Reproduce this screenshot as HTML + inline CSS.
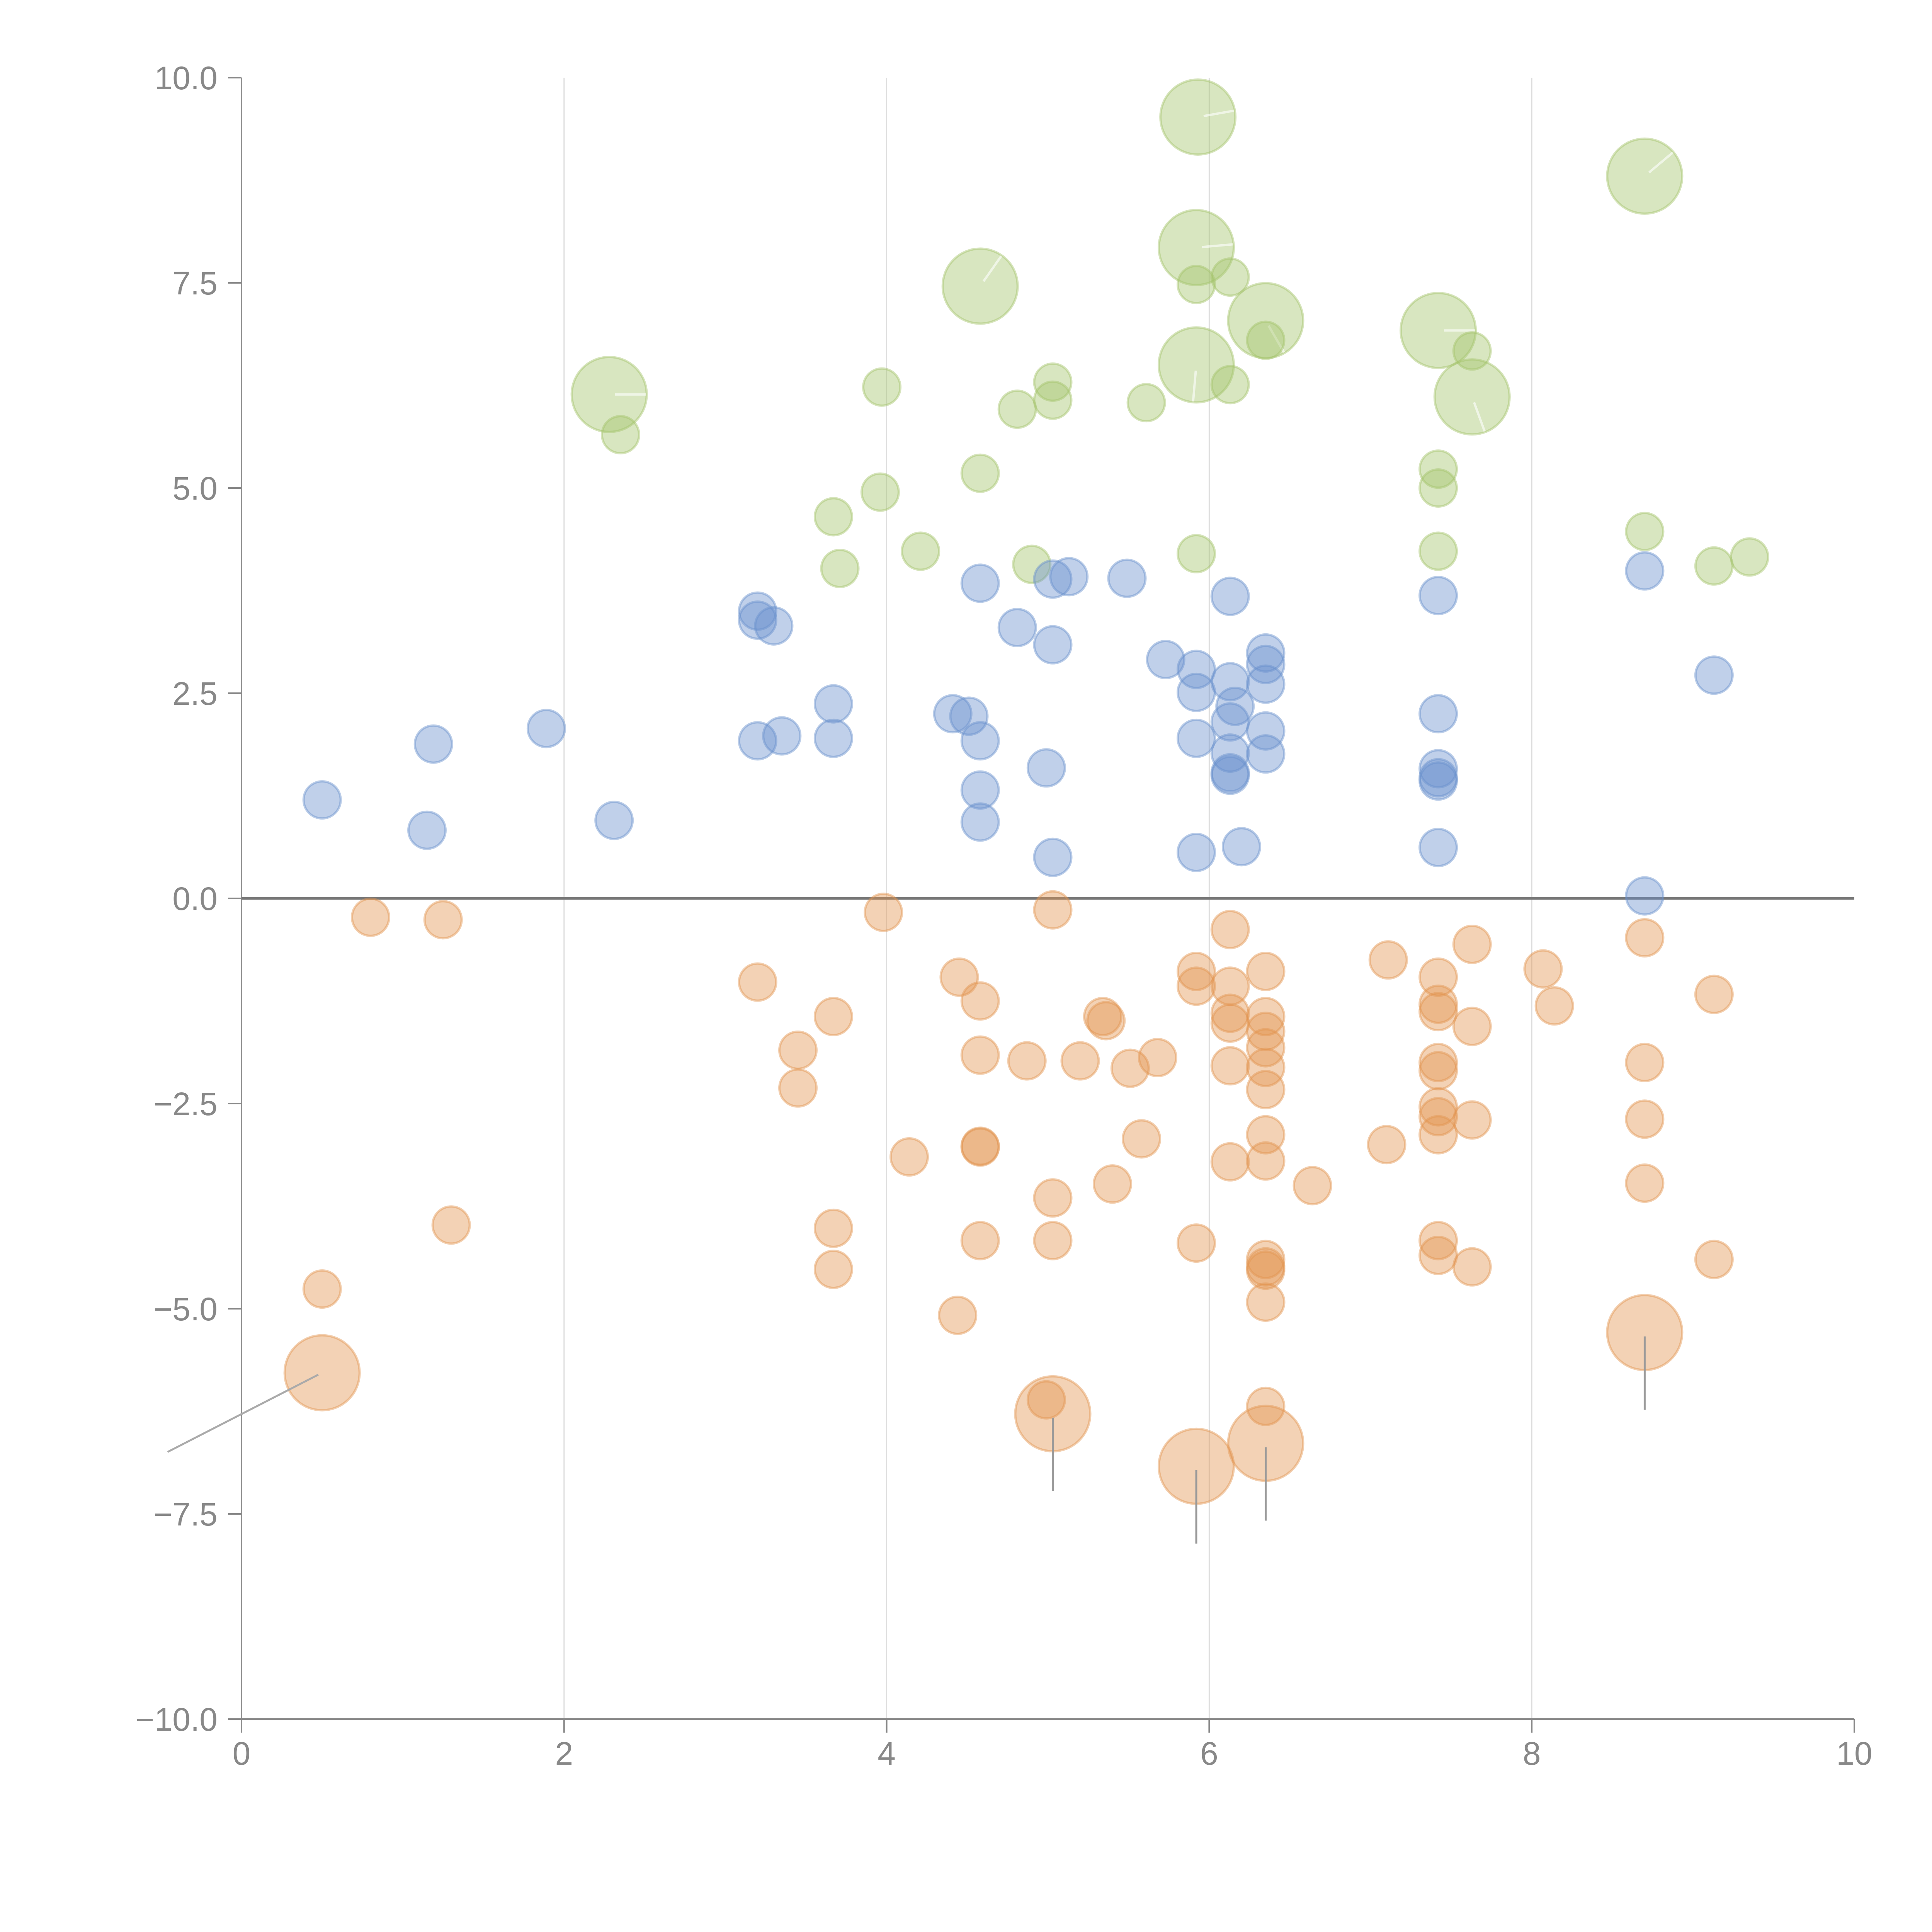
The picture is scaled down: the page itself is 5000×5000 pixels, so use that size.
<!DOCTYPE html>
<html><head><meta charset="utf-8"><style>
html,body{margin:0;padding:0;background:#fff;}
svg{display:block;}
text{font-family:"Liberation Sans",Arial,sans-serif;fill:#888;font-size:84px;}
</style></head><body>
<svg id="chart" width="5000" height="5000" viewBox="0 0 5000 5000" xmlns="http://www.w3.org/2000/svg">
<g id="grid"></g>
<g id="axes"></g>
<g id="marks"></g>
</svg>
<script>
const xTicks=[0,2,4,6,8,10];
const yTicks=[-10,-7.5,-5,-2.5,0,2.5,5,7.5,10];
const yTickLabels=["\u221210.0","\u22127.5","\u22125.0","\u22122.5","0.0","2.5","5.0","7.5","10.0"];
const greenX=[5.93,8.70,5.92,4.58,5.92,6.13,6.35,6.35,7.42,7.63,5.92,7.63,6.13,2.28,2.35,3.97,5.03,5.03,4.81,5.61,4.58,7.42,7.42,3.96,3.67,3.71,4.21,4.90,5.92,7.42,8.70,9.13,9.35];
const greenY=[9.52,8.80,7.93,7.46,7.48,7.57,7.04,6.80,6.92,6.67,6.50,6.11,6.26,6.14,5.65,6.23,6.29,6.07,5.96,6.04,5.18,5.23,5.00,4.95,4.65,4.02,4.23,4.07,4.20,4.23,4.47,4.05,4.16];
const greenS=[2,2,2,2,1,1,2,1,2,1,2,2,1,2,1,1,1,1,1,1,1,1,1,1,1,1,1,1,1,1,1,1,1];
const blueX=[0.50,1.15,1.19,1.89,2.31,3.20,3.20,3.30,3.20,3.35,3.67,3.67,4.41,4.51,4.58,4.58,4.58,4.58,4.81,5.03,5.13,5.03,4.99,5.03,5.49,5.73,5.92,5.92,5.92,5.92,6.13,6.13,6.16,6.13,6.13,6.13,6.13,6.20,6.35,6.35,6.35,6.35,6.35,7.42,7.42,7.42,7.42,7.42,7.42,8.70,8.70,9.13];
const blueY=[1.20,0.83,1.88,2.07,0.95,3.50,3.39,3.32,1.92,1.98,2.37,1.95,2.25,2.22,1.92,1.32,0.93,3.84,3.30,3.89,3.92,3.09,1.59,0.50,3.90,2.91,2.79,2.51,1.95,0.56,3.68,2.64,2.34,2.15,1.77,1.53,1.50,0.63,2.99,2.85,2.61,2.04,1.76,3.69,2.25,1.58,1.47,1.43,0.62,3.99,0.03,2.72];
const orangeX=[0.80,1.25,3.98,5.03,6.13,7.63,8.70,7.11,8.07,8.14,9.13,3.20,3.67,3.45,3.45,4.45,4.58,4.58,4.87,5.20,5.34,5.36,5.51,5.68,5.92,5.92,6.13,6.13,6.13,6.13,6.35,6.35,6.35,6.35,6.35,6.35,6.35,6.35,6.13,6.64,7.10,7.42,7.42,7.42,7.42,7.42,7.42,7.42,7.42,7.63,7.63,8.70,8.70,8.70,9.13,4.14,4.58,4.58,5.58,5.40,5.03,5.03,4.58,3.67,3.67,1.30,0.50,4.44,5.92,7.42,7.42,7.63,6.35,6.35,6.35,6.35,4.99,6.35,0.50,5.03,5.92,6.35,8.70];
const orangeY=[-0.23,-0.26,-0.17,-0.14,-0.38,-0.56,-0.48,-0.75,-0.86,-1.31,-1.17,-1.02,-1.44,-1.85,-2.31,-0.96,-1.25,-1.91,-1.98,-1.98,-1.44,-1.49,-2.07,-1.94,-0.89,-1.07,-1.07,-1.40,-1.52,-2.04,-0.89,-1.44,-1.62,-1.82,-2.06,-2.33,-2.88,-3.20,-3.21,-3.50,-3.00,-0.96,-1.29,-1.38,-2.00,-2.10,-2.54,-2.66,-2.88,-1.56,-2.70,-2.00,-2.69,-3.47,-4.40,-3.15,-3.02,-3.03,-2.93,-3.48,-3.65,-4.17,-4.17,-4.02,-4.52,-3.98,-4.76,-5.08,-4.20,-4.17,-4.35,-4.49,-4.40,-4.49,-4.53,-4.92,-6.11,-6.19,-5.78,-6.28,-6.92,-6.64,-5.29];
const orangeS=orangeX.map((_,i)=>i>=orangeX.length-5?2:1);

const X0=625,X1=4799,Y0=4449,Y1=201;
const sx=v=>X0+(v-0)/(10-0)*(X1-X0);
const sy=v=>Y0-(v+10)/20*(Y0-Y1);
const rad=s=>s===2?97:48;
const NS="http://www.w3.org/2000/svg";
function mk(tag,attrs,parent){const e=document.createElementNS(NS,tag);for(const k in attrs)e.setAttribute(k,attrs[k]);parent.appendChild(e);return e;}
const grid=document.getElementById('grid'),axes=document.getElementById('axes'),marks=document.getElementById('marks');

xTicks.forEach(t=>{
  if(t>0&&t<10){const l=mk('line',{x1:sx(t),x2:sx(t),y1:Y1,y2:Y0,stroke:'#ddd','stroke-width':3},grid);
  
  }
  const tk=mk('line',{x1:sx(t),x2:sx(t),y1:Y0,y2:Y0+35,stroke:'#888','stroke-width':4},axes);
  
  
  const tx=mk('text',{x:sx(t),y:Y0+118,'text-anchor':'middle'},axes);tx.textContent=String(t);
  
  
});
yTicks.forEach((t,i)=>{
  const tk=mk('line',{x1:X0-35,x2:X0,y1:sy(t),y2:sy(t),stroke:'#888','stroke-width':4},axes);
  
  
  const tx=mk('text',{x:X0-62,y:sy(t)+30,'text-anchor':'end'},axes);tx.textContent=yTickLabels[i];
  
  
});
const ya=mk('line',{x1:X0,x2:X0,y1:Y1,y2:Y0,stroke:'#888','stroke-width':4},axes);


const xa=mk('line',{x1:X0,x2:X1,y1:Y0,y2:Y0,stroke:'#888','stroke-width':5},axes);


const zl=mk('line',{x1:X0,x2:X1,y1:sy(0),y2:sy(0),stroke:'#777','stroke-width':7},axes);



const greenAngles=[-10,-40,-5,-55,0,0,60,0,0,0,95,70];
function series(xs,ys,ss,color,name){
  xs.forEach((x,i)=>{
    const s=ss?ss[i]:1;
    const cx=sx(x),cy=sy(ys[i]);
    const c=mk('circle',{cx:cx,cy:cy,r:rad(s),fill:color,'fill-opacity':0.42,stroke:color,'stroke-opacity':0.45,'stroke-width':6},marks);
    
    
    if(s===2){
      if(name==='orange-bubble'){
        let l;
        if(x<1){
          l=mk('line',{x1:cx-10,x2:cx-400,y1:cy+5,y2:cy+205,stroke:'#aaa','stroke-width':5},marks);
        } else {
          l=mk('line',{x1:cx,x2:cx,y1:cy+10,y2:cy+200,stroke:'#999','stroke-width':5},marks);
        }
        
        
      } else {
        const a=(greenAngles[i]||0)*Math.PI/180;
        const l=mk('line',{x1:cx+15*Math.cos(a),x2:cx+95*Math.cos(a),y1:cy+15*Math.sin(a),y2:cy+95*Math.sin(a),stroke:'#fff','stroke-opacity':0.6,'stroke-width':6},marks);
        
        
      }
    }
  });
}
series(greenX,greenY,greenS,'#a3c46a','green-bubble');
series(blueX,blueY,null,'#6890cc','blue-bubble');
series(orangeX,orangeY,orangeS,'#e3944f','orange-bubble');
</script>
</body></html>
